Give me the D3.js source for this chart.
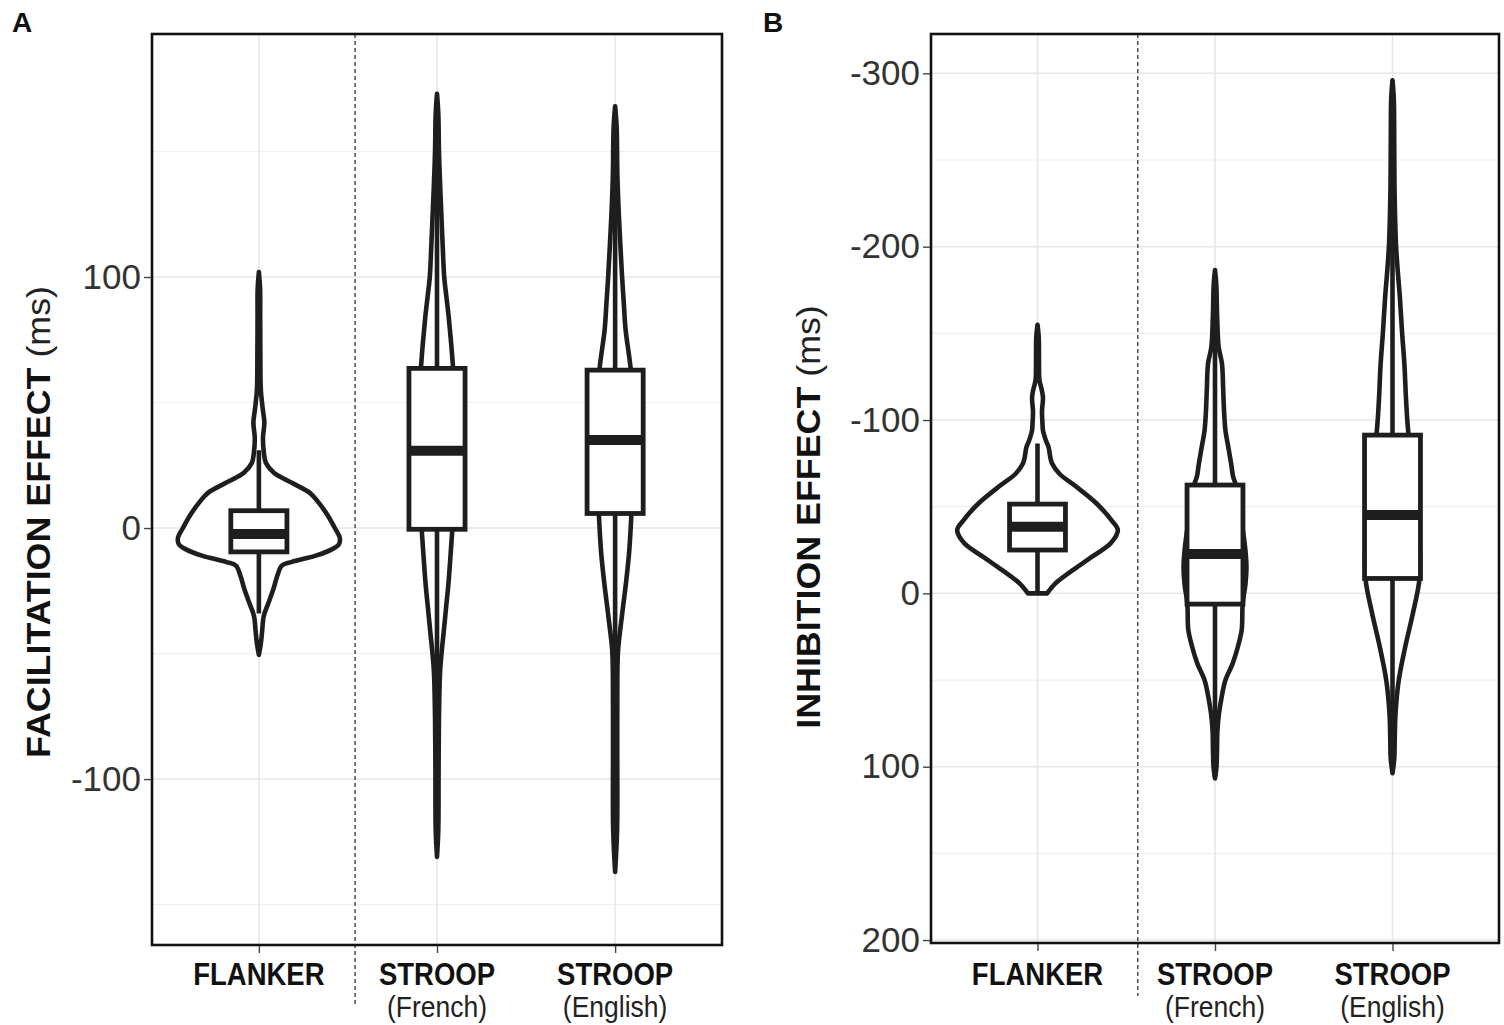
<!DOCTYPE html>
<html>
<head>
<meta charset="utf-8">
<script src="https://cdn.jsdelivr.net/npm/d3@7"></script>
<style>
  html, body { margin: 0; padding: 0; background: #fff; }
  #d3-violins { width: 1504px; height: 1025px; }
</style>
</head>
<body>
<div id="d3-violins"></div>
<script>
const parentID = "d3-violins";

// x categories (second line is the language)
const taskNames = ["FLANKER", "STROOP", "STROOP"];
const taskLanguages = ["", "(French)", "(English)"];

// panel A - facilitation effect (ms), box stats per task
const facilQ1 = [-9.5, -0.5, 5.8];
const facilMedian = [-2.4, 30.8, 35.1];
const facilQ3 = [6.9, 63.6, 62.9];
const facilWhiskerLow = [-34, -96, -80];
const facilWhiskerHigh = [31, 159, 148];

// panel B - inhibition effect (ms), box stats per task
const inhibQ1 = [-51.5, -62.5, -91.3];
const inhibMedian = [-38.4, -22.7, -45.2];
const inhibQ3 = [-25, 6.2, -8.6];
const inhibWhiskerLow = [-86.5, -160, -228];
const inhibWhiskerHigh = [0, 105, 103];

// violin profiles: [effect in ms, relative density]
const facilFlankerDensity = [
  [102, 0], [95, 0.015], [85, 0.016], [70, 0.018], [55, 0.024], [47, 0.049], [42, 0.067],
  [36, 0.05], [30, 0.061], [26, 0.085], [22, 0.183], [18, 0.402], [14, 0.622], [10, 0.732],
  [5, 0.841], [0, 0.927], [-4, 0.988], [-6.5, 0.976], [-8.5, 0.89], [-11, 0.695],
  [-13.5, 0.402], [-15, 0.28], [-19, 0.225], [-24, 0.18], [-30, 0.115], [-35, 0.06],
  [-41, 0.04], [-46, 0.024], [-50.5, 0]
];
const facilFrenchDensity = [
  [173, 0], [165, 0.016], [150, 0.024], [135, 0.04], [122, 0.057], [112, 0.07], [100, 0.088],
  [92, 0.115], [83, 0.146], [64, 0.196], [50, 0.22], [30, 0.232], [10, 0.21], [-1.5, 0.185],
  [-10, 0.167], [-22, 0.14], [-32, 0.11], [-42, 0.08], [-50, 0.055], [-57, 0.038],
  [-75, 0.024], [-100, 0.019], [-120, 0.016], [-131, 0]
];
const facilEnglishDensity = [
  [168, 0], [160, 0.018], [140, 0.028], [125, 0.045], [112, 0.065], [100, 0.085], [90, 0.105],
  [79, 0.128], [63, 0.191], [45, 0.22], [25, 0.22], [4.5, 0.197], [-10, 0.17], [-22, 0.132],
  [-35, 0.083], [-48.6, 0.036], [-60, 0.027], [-90, 0.026], [-120, 0.024], [-137, 0]
];
const inhibFlankerDensity = [
  [-155, 0], [-148, 0.015], [-135, 0.018], [-123, 0.024], [-118, 0.049], [-113, 0.067],
  [-105, 0.055], [-98, 0.061], [-94, 0.067], [-88, 0.104], [-84.6, 0.134], [-78, 0.159],
  [-75, 0.177], [-69, 0.268], [-61.5, 0.476], [-52, 0.72], [-42, 0.91], [-36.5, 0.984],
  [-29, 0.899], [-21, 0.665], [-13.4, 0.432], [-5.8, 0.22], [0, 0.117]
];
const inhibFrenchDensity = [
  [-186.5, 0], [-178, 0.016], [-160, 0.026], [-142, 0.045], [-132.7, 0.085], [-118, 0.1],
  [-104, 0.112], [-94, 0.128], [-84.6, 0.162], [-75, 0.197], [-67.3, 0.222], [-62.5, 0.256],
  [-46, 0.305], [-36.5, 0.341], [-25, 0.372], [-15, 0.385], [-5, 0.372], [5.8, 0.339],
  [21, 0.327], [30.8, 0.28], [40.4, 0.217], [50, 0.128], [59.7, 0.082], [69.2, 0.049],
  [78.9, 0.03], [92, 0.024], [100, 0.018], [106.7, 0]
];
const inhibEnglishDensity = [
  [-296, 0], [-285, 0.016], [-260, 0.021], [-230, 0.026], [-200, 0.044], [-185, 0.066],
  [-171, 0.09], [-150, 0.118], [-132.7, 0.145], [-110, 0.168], [-94.2, 0.191], [-70, 0.256],
  [-45, 0.305], [-25, 0.335], [-7.7, 0.329], [11.5, 0.25], [30.8, 0.156], [50, 0.077],
  [69.2, 0.037], [85, 0.027], [95, 0.022], [103.8, 0]
];

// axis ticks
const facilTicks = [100, 0, -100];
const facilMinorTicks = [150, 50, -50, -150];
const inhibTicks = [-300, -200, -100, 0, 100, 200];
const inhibMinorTicks = [-250, -150, -50, 50, 150];

document.addEventListener("DOMContentLoaded", () => {
  const CONFIGS = {
    width: 1504,
    height: 1025,
    font: "'Liberation Sans', Arial, Helvetica, sans-serif",
    ink: "#1e1e1e",
    grid: "#e6e6e6",
    minorGrid: "#efefef",
    padding: 0.6,        // ggplot discrete expansion
    violinHalf: 0.46,    // max half width, in steps
    boxWidth: 0.315,     // in steps
    label: {
      size: 27.5,
      stretch: 1.12,
      line1: 985,
      line2: 1016.5
    }
  }

  const PANELS = [
    {
      letter: "A", letterX: 12,
      left: 152, right: 722, top: 34, bottom: 945,
      yDomain: [-166.1, 196.8],
      ticks: facilTicks, minor: facilMinorTicks,
      title: "FACILITATION EFFECT", titleX: 50, titleY: 522,
      dashAt: 0.54, dashBottom: 1005,
      q1: facilQ1, median: facilMedian, q3: facilQ3,
      low: facilWhiskerLow, high: facilWhiskerHigh,
      densities: [facilFlankerDensity, facilFrenchDensity, facilEnglishDensity]
    },
    {
      letter: "B", letterX: 763,
      left: 931, right: 1499, top: 34, bottom: 943,
      yDomain: [201.7, -322.7],
      ticks: inhibTicks, minor: inhibMinorTicks,
      title: "INHIBITION EFFECT", titleX: 820, titleY: 517,
      dashAt: 0.565, dashBottom: 996,
      q1: inhibQ1, median: inhibMedian, q3: inhibQ3,
      low: inhibWhiskerLow, high: inhibWhiskerHigh,
      densities: [inhibFlankerDensity, inhibFrenchDensity, inhibEnglishDensity]
    }
  ]

  const svg = d3.create("svg")
    .attr("viewBox", [0, 0, CONFIGS.width, CONFIGS.height])
    .attr("width", CONFIGS.width)
    .attr("height", CONFIGS.height)
    .attr("font-family", CONFIGS.font);

  svg.append("rect")
    .attr("width", CONFIGS.width)
    .attr("height", CONFIGS.height)
    .attr("fill", "#fff");

  const drawPanel = (p) => {
    const g = svg.append("g");
    const idx = d3.range(taskNames.length);

    const x = d3.scalePoint()
      .domain(idx)
      .range([p.left, p.right])
      .padding(CONFIGS.padding);
    const y = d3.scaleLinear()
      .domain(p.yDomain)
      .range([p.bottom, p.top]);
    const w = d3.scaleLinear()
      .domain([0, 1])
      .range([0, CONFIGS.violinHalf * x.step()]);

    // grid
    g.append("g")
      .selectAll("line")
      .data(p.minor)
      .join("line")
      .attr("x1", p.left).attr("x2", p.right)
      .attr("y1", d => y(d)).attr("y2", d => y(d))
      .attr("stroke", CONFIGS.minorGrid)
      .attr("stroke-width", 1.2);
    g.append("g")
      .selectAll("line")
      .data(p.ticks)
      .join("line")
      .attr("x1", p.left).attr("x2", p.right)
      .attr("y1", d => y(d)).attr("y2", d => y(d))
      .attr("stroke", CONFIGS.grid)
      .attr("stroke-width", 1.5);
    g.append("g")
      .selectAll("line")
      .data(idx)
      .join("line")
      .attr("x1", d => x(d)).attr("x2", d => x(d))
      .attr("y1", p.top).attr("y2", p.bottom)
      .attr("stroke", CONFIGS.grid)
      .attr("stroke-width", 1.5);

    // separator between flanker and stroop
    const sep = x(0) + p.dashAt * x.step();
    g.append("line")
      .attr("x1", sep).attr("x2", sep)
      .attr("y1", p.top).attr("y2", p.dashBottom)
      .attr("stroke", "#333")
      .attr("stroke-width", 1.3)
      .attr("stroke-dasharray", "4,3");

    // violins
    idx.forEach(i => {
      const cx = x(i);
      const area = d3.area()
        .curve(d3.curveCatmullRom.alpha(0.5))
        .y(d => y(d[0]))
        .x0(d => cx - w(d[1]))
        .x1(d => cx + w(d[1]));
      g.append("path")
        .attr("d", area(p.densities[i]))
        .attr("fill", "#fff")
        .attr("stroke", CONFIGS.ink)
        .attr("stroke-width", 4.6)
        .attr("stroke-linejoin", "round");
    });

    // boxplots
    const bw = CONFIGS.boxWidth * x.step();
    const box = g.append("g")
      .selectAll("g")
      .data(idx)
      .join("g");
    box.append("line")
      .attr("x1", d => x(d)).attr("x2", d => x(d))
      .attr("y1", d => y(p.low[d])).attr("y2", d => y(p.high[d]))
      .attr("stroke", CONFIGS.ink)
      .attr("stroke-width", 4.6);
    box.append("rect")
      .attr("x", d => x(d) - bw / 2)
      .attr("width", bw)
      .attr("y", d => Math.min(y(p.q1[d]), y(p.q3[d])))
      .attr("height", d => Math.abs(y(p.q1[d]) - y(p.q3[d])))
      .attr("fill", "#fff")
      .attr("stroke", CONFIGS.ink)
      .attr("stroke-width", 4.8);
    box.append("line")
      .attr("x1", d => x(d) - bw / 2).attr("x2", d => x(d) + bw / 2)
      .attr("y1", d => y(p.median[d])).attr("y2", d => y(p.median[d]))
      .attr("stroke", CONFIGS.ink)
      .attr("stroke-width", 10);

    // frame
    g.append("rect")
      .attr("x", p.left).attr("y", p.top)
      .attr("width", p.right - p.left)
      .attr("height", p.bottom - p.top)
      .attr("fill", "none")
      .attr("stroke", "#111")
      .attr("stroke-width", 2.6);

    // y axis (plain hyphen for negatives, as in the figure)
    const yAxis = g.append("g")
      .attr("transform", `translate(${p.left - 1},0)`)
      .call(d3.axisLeft(y).tickValues(p.ticks).tickSize(7).tickPadding(3).tickFormat(d => String(d)));
    yAxis.select(".domain").remove();
    yAxis.selectAll(".tick line").attr("stroke", "#444").attr("stroke-width", 1.4);
    yAxis.selectAll(".tick text")
      .attr("fill", "#333")
      .attr("font-size", 35)
      .attr("font-family", CONFIGS.font);

    // x axis
    const xAxis = g.append("g")
      .attr("transform", `translate(0,${p.bottom + 1})`)
      .call(d3.axisBottom(x).tickSize(7).tickFormat(""));
    xAxis.select(".domain").remove();
    xAxis.selectAll(".tick line").attr("stroke", "#444").attr("stroke-width", 1.4);

    const lab = g.append("g")
      .selectAll("g")
      .data(idx)
      .join("g");
    lab.append("text")
      .attr("transform", d => `translate(${x(d)},${CONFIGS.label.line1}) scale(1,${CONFIGS.label.stretch})`)
      .attr("text-anchor", "middle")
      .attr("font-size", CONFIGS.label.size)
      .attr("font-weight", "bold")
      .attr("fill", "#111")
      .text(d => taskNames[d]);
    lab.append("text")
      .attr("transform", d => `translate(${x(d)},${CONFIGS.label.line2}) scale(1,${CONFIGS.label.stretch})`)
      .attr("text-anchor", "middle")
      .attr("font-size", CONFIGS.label.size - 1)
      .attr("fill", "#222")
      .text(d => taskLanguages[d]);

    // y title
    const title = g.append("text")
      .attr("transform", `translate(${p.titleX},${p.titleY}) rotate(-90) scale(1.085,1)`)
      .attr("text-anchor", "middle")
      .attr("font-size", 33)
      .attr("fill", "#111");
    title.append("tspan").attr("font-weight", "bold").text(p.title);
    title.append("tspan").attr("fill", "#222").text(" (ms)");

    // panel letter
    g.append("text")
      .attr("x", p.letterX).attr("y", 32)
      .attr("font-size", 28)
      .attr("font-weight", "bold")
      .attr("fill", "#111")
      .text(p.letter);
  }

  PANELS.forEach(drawPanel);

  document.getElementById(parentID).append(svg.node());
});
</script>
</body>
</html>
